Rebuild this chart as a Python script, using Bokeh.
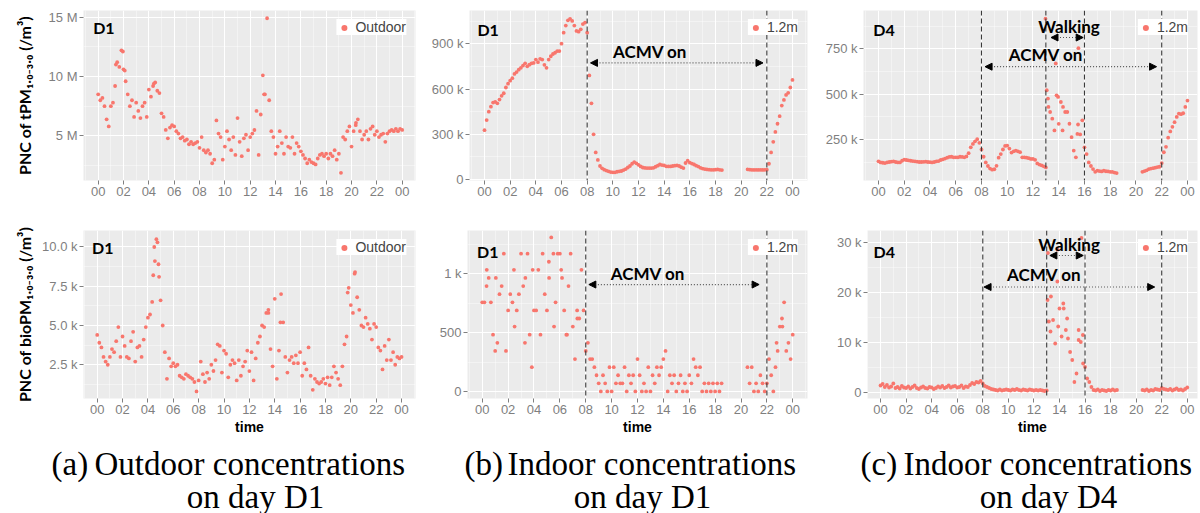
import numpy as np
from bokeh.plotting import figure
from bokeh.models import (Range1d, FixedTicker, Span, Label, Arrow, NormalHead,
                          Legend, LegendItem, ColumnDataSource)
from bokeh.layouts import column, row
from bokeh.embed import file_html
from bokeh.resources import INLINE
from bokeh.core.properties import value

# ---------------- data (10-minute samples from 00:00 to 24:00) ----------------
STEP_MIN = 10
hours = np.arange(145) * STEP_MIN / 60.0

# (a) outdoor D1, tPM (millions / m3)
a_top = [8.5, 8.0, 8.2, 7.5, 6.4, 5.8, 7.5, 7.8, 9.2, 11.2,
         10.8, 12.2, 10.6, 9.6, 8.5, 7.5, 8.0, 6.6, 7.8, 7.1,
         6.5, 7.5, 7.8, 6.6, 8.9, 8.3, 9.2, 9.5, 8.8, 8.6,
         6.9, 6.6, 5.5, 4.8, 5.7, 5.9, 5.8, 5.4, 5.2, 4.8,
         4.9, 4.6, 4.7, 4.3, 4.5, 4.3, 4.4, 4.5, 4.0, 4.9,
         3.8, 3.6, 3.8, 3.5, 2.7, 3.0, 6.3, 5.2, 4.9, 3.0,
         4.1, 5.4, 4.7, 3.8, 4.9, 3.4, 6.5, 4.5, 3.3, 4.8,
         5.1, 3.8, 4.9, 5.2, 5.5, 7.1, 3.4, 6.8, 10.1, 8.5,
         14.9, 8.0, 5.4, 4.9, 3.5, 4.1, 5.4, 4.4, 3.5, 4.9,
         4.1, 4.0, 4.9, 3.5, 4.4, 4.1, 3.7, 3.4, 3.1, 2.7,
         3.0, 2.8, 2.7, 2.6, 3.1, 3.4, 3.5, 3.3, 3.5, 3.1,
         3.5, 3.3, 3.8, 3.0, 3.5, 1.9, 4.9, 4.7, 5.4, 5.8,
         4.1, 5.4, 5.9, 6.4, 5.4, 4.7, 5.1, 5.4, 4.7, 5.6,
         5.8, 5.1, 5.4, 4.9, 5.1, 5.2, 4.5, 5.2, 5.4, 5.5,
         5.4, 5.6, 5.4, 5.6, 5.5]
a_top_extra_t = [1.4, 1.95, 2.1, 4.4, 13.1, 20.35]
a_top_extra_v = [11.0, 12.1, 10.5, 9.4, 8.5, 6.1]

# (a) outdoor D1, bioPM (thousands / m3)
a_bot = [4.4, 3.9, 3.6, 3.0, 2.7, 2.5, 3.0, 3.5, 3.3, 4.0,
         4.9, 3.0, 4.3, 3.7, 3.0, 2.9, 4.0, 4.6, 2.7, 3.6,
         3.7, 3.0, 4.1, 4.9, 5.5, 5.7, 6.5, 10.0, 10.5, 8.9,
         6.6, 5.0, 3.3, 1.6, 2.9, 2.4, 2.6, 2.4, 2.5, 1.8,
         1.7, 1.6, 1.9, 1.8, 1.7, 1.6, 1.4, 0.8, 1.5, 2.7,
         1.9, 1.4, 2.0, 1.6, 2.5, 2.1, 2.8, 3.8, 3.7, 2.0,
         3.4, 3.2, 1.7, 2.5, 2.8, 2.6, 1.5, 2.8, 1.8, 2.4,
         2.7, 3.4, 2.1, 3.3, 1.5, 2.9, 3.9, 4.3, 5.0, 4.9,
         5.8, 6.0, 3.5, 2.4, 6.7, 1.6, 3.4, 7.0, 5.2, 3.0,
         2.0, 2.8, 3.0, 2.6, 3.1, 2.6, 3.3, 1.8, 2.6, 2.2,
         3.6, 1.8, 0.9, 1.6, 1.4, 1.3, 1.4, 1.6, 1.3, 1.7,
         1.2, 1.7, 2.4, 2.0, 1.6, 1.2, 2.4, 3.8, 4.3, 7.4,
         6.3, 5.8, 8.4, 6.8, 6.0, 5.0, 4.9, 5.5, 5.1, 4.8,
         4.1, 5.1, 4.9, 3.6, 3.4, 2.2, 3.7, 2.8, 4.1, 2.8,
         3.3, 2.5, 3.0, 2.9, 3.0]
a_bot_extra_t = [4.42, 4.55, 4.75, 4.88, 13.5, 19.75, 20.3, 14.45]
a_bot_extra_v = [8.2, 9.1, 10.3, 8.1, 5.8, 7.1, 8.3, 5.2]

# (b) indoor D1 at 1.2 m, tPM (thousands / m3)
b_top = [327, 394, 450, 483, 510, 515, 505, 530, 555, 572,
         610, 635, 655, 672, 700, 712, 728, 740, 755, 770,
         750, 761, 770, 773, 795, 778, 800, 795, 760, 740,
         795, 817, 832, 840, 851, 851, 900, 973, 1020, 1055,
         1065, 1051, 1020, 985, 980, 995, 1030, 1040, 973, 690,
         505, 300, 180, 130, 90, 75, 66, 60, 55, 50,
         48, 48, 52, 55, 57, 63, 70, 80, 90, 105,
         116, 108, 98, 87, 80, 77, 76, 76, 76, 78,
         85, 92, 100, 96, 94, 88, 87, 87, 90, 92,
         94, 90, 82, 76, 110, 125, 112, 106, 100, 92,
         86, 78, 73, 70, 67, 66, 65, 65, 66, 67,
         65, 63, None, None, None, None, None, None, None, None,
         None, None, None, 68, 66, 65, 64, 65, 64, 65,
         64, 65, 66, 105, 180, 250, 316, 370, 420, 490,
         528, 561, 575, 610, 660]

# (b) indoor D1 at 1.2 m, bioPM (/m3)
b_bot = [759, 759, 897, 966, 759, 483, 345, 414, 828, 897,
         1173, 345, 690, 828, 759, 552, 690, 828, 1173, 897,
         966, 1173, 483, 207, 690, 690, 1035, 483, 1173, 828,
         690, 966, 1311, 1173, 759, 1173, 1173, 966, 690, 483,
         897, 1173, 552, 276, 690, 621, 1035, 690, 345, 414,
         276, 276, 207, 138, 69, 0, 138, 69, 0, 207,
         0, 207, 69, 138, 69, 69, 207, 0, 138, 69,
         138, 0, 276, 138, 0, 69, 0, 207, 0, 138,
         69, 207, 138, 207, 276, 345, 0, 138, 69, 138,
         0, 69, 138, 0, 69, 0, 138, 69, 276, 207,
         138, 207, 0, 69, 0, 69, 0, 69, 0, 69,
         0, 69, None, None, None, None, None, None, None, None,
         None, None, None, 207, 69, 207, 0, 69, 0, 138,
         69, 0, 69, 276, 138, 0, 207, 345, 552, 621,
         759, 345, 414, 276, 483]
b_bot_extra_t = [0.35, 1.05, 2.45, 3.3, 3.9, 5.15, 5.55, 6.1, 6.55, 7.35, 22.75, 23.2]
b_bot_extra_v = [1035, 966, 1035, 414, 1035, 1104, 552, 1035, 483, 621, 414, 552]

# (c) indoor D4 at 1.2 m, tPM (thousands / m3)
c_top = [130, 124, 122, 120, 124, 126, 128, 130, 126, 124,
         124, 133, 139, 137, 135, 133, 131, 130, 128, 126,
         126, 127, 128, 126, 125, 124, 126, 130, 131, 137,
         141, 145, 150, 154, 155, 152, 152, 152, 155, 154,
         152, 157, 175, 207, 226, 240, 252, 232, 195, 155,
         124, 104, 90, 84, 86, 105, 150, 170, 195, 215,
         217, 200, 178, 185, 189, 185, 180, 152, 152, 150,
         147, 143, 143, 138, 118, 112, 108, 102, 96, 476,
         402, 365, 300, 494, 337, 457, 430, 402, 402, 337,
         263, 189, 152, 333, 278, 356, 207, 170, 124, 104,
         87, 72, 78, 76, 74, 78, 75, 74, 72, 71,
         68, 65, None, None, None, None, None, None, None, None,
         None, None, None, 72, 76, 80, 87, 90, 92, 95,
         98, 100, 120, 180, 210, 260, 295, 320, 346, 375,
         393, 390, 395, 430, 465]
c_top_extra_t = [12.97, 13.07, 13.2, 13.77, 13.95, 14.3, 15.45, 15.53]
c_top_extra_v = [917, 522, 430, 670, 485, 300, 281, 754]

# (c) indoor D4 at 1.2 m, bioPM (thousands / m3)
c_bot = [1.3, 1.6, 1.0, 1.4, 0.9, 1.1, 1.7, 0.8, 1.0, 0.7,
         1.2, 0.9, 0.8, 1.1, 0.7, 1.0, 1.3, 0.8, 0.6, 0.9,
         1.1, 0.8, 0.7, 1.0, 0.9, 0.6, 0.8, 1.1, 0.9, 1.2,
         0.8, 1.0, 1.3, 0.9, 1.1, 1.2, 0.9, 1.0, 1.3, 0.8,
         1.1, 1.0, 1.4, 1.8, 1.6, 2.0, 1.9, 2.2, 1.7, 1.2,
         1.0, 0.8, 0.6, 0.5, 0.4, 0.3, 0.5, 0.3, 0.4, 0.5,
         0.4, 0.3, 0.5, 0.4, 0.6, 0.4, 0.3, 0.5, 0.4, 0.3,
         0.5, 0.4, 0.3, 0.4, 0.3, 0.4, 0.3, 0.2, 0.3, 14.1,
         19.1, 14.4, 9.7, 22.1, 16.7, 11.1, 16.7, 12.4, 10.7, 8.0,
         6.4, 2.0, 3.7, 10.4, 10.0, 11.4, 5.0, 2.7, 2.0, 1.0,
         0.4, 0.3, 0.5, 0.2, 0.4, 0.3, 0.2, 0.4, 0.3, 0.5,
         0.3, 0.4, None, None, None, None, None, None, None, None,
         None, None, None, 0.4, 0.3, 0.5, 0.2, 0.4, 0.3, 0.6,
         0.5, 0.4, 0.8, 0.6, 0.5, 0.4, 0.6, 0.3, 0.5, 0.7,
         0.4, 0.5, 0.3, 0.6, 0.9]
c_bot_extra_t = [13.07, 13.1, 13.3, 13.85, 13.9, 14.3, 14.6, 15.72, 15.85, 15.5]
c_bot_extra_v = [18.4, 27.8, 12.1, 28.5, 13.1, 17.7, 14.7, 30.8, 5.7, 12.4]

x_ticks = list(range(0, 25, 2))
x_tick_labels = ["00", "02", "04", "06", "08", "10", "12", "14", "16", "18", "20", "22", "00"]

captions_tag = ["(a)", "(b)", "(c)"]
captions_line1 = ["Outdoor concentrations", "Indoor concentrations", "Indoor concentrations"]
captions_line2 = ["on day D1", "on day D1", "on day D4"]

# ---------------- styling ----------------
RED = "#F8766D"
BG = "#EBEBEB"
TICK_GREY = "#7F7F7F"
SANS = "Liberation Sans"
CAL = "Lato"


def arr(v):
    return np.array(v, dtype=float)


def panel(w, h, bl, br, bt, bb, xr, yr, yticks, ylabels, yminor,
          series, extra_t, extra_v, legend_label, tag, tag_xy,
          ylabel=None, ylabel_standoff=10, show_time=False):
    p = figure(width=w, height=h, x_range=Range1d(*xr), y_range=Range1d(*yr),
               output_backend="svg", toolbar_location=None, tools="", title=None,
               min_border_left=bl, min_border_right=br, min_border_top=bt,
               min_border_bottom=bb, background_fill_color=BG,
               outline_line_color=None, border_fill_color="white")
    p.xaxis.ticker = FixedTicker(ticks=x_ticks, minor_ticks=[-1] + list(range(1, 24, 2)) + [25])
    p.xaxis.major_label_overrides = {t: l for t, l in zip(x_ticks, x_tick_labels)}
    p.yaxis.ticker = FixedTicker(ticks=yticks, minor_ticks=yminor)
    p.yaxis.major_label_overrides = {t: l for t, l in zip(yticks, ylabels)}
    for ax in (p.xaxis, p.yaxis):
        ax.axis_line_color = None
        ax.major_tick_out = 4
        ax.major_tick_in = 0
        ax.minor_tick_out = 0
        ax.minor_tick_in = 0
        ax.major_tick_line_color = TICK_GREY
        ax.major_label_text_color = TICK_GREY
        ax.major_label_text_font = SANS
        ax.major_label_text_font_size = "13px"
        ax.major_label_standoff = 2
    for g in (p.xgrid, p.ygrid):
        g.grid_line_color = "white"
        g.grid_line_width = 1.1
        g.minor_grid_line_color = "white"
        g.minor_grid_line_width = 0.6
        g.minor_grid_line_alpha = 0.7
    if show_time:
        p.xaxis.axis_label = "time"
        p.xaxis.axis_label_text_font = SANS
        p.xaxis.axis_label_text_font_style = "bold"
        p.xaxis.axis_label_text_font_size = "14px"
        p.xaxis.axis_label_text_color = "black"
        p.xaxis.axis_label_standoff = 2
    if ylabel:
        p.yaxis.axis_label = ylabel
        p.yaxis.axis_label_text_font = CAL
        p.yaxis.axis_label_text_font_style = "bold"
        p.yaxis.axis_label_text_font_size = "16px"
        p.yaxis.axis_label_text_color = "black"
        p.yaxis.axis_label_standoff = ylabel_standoff

    t_all = np.concatenate([hours, arr(extra_t)])
    v_all = np.concatenate([arr(series), arr(extra_v)])
    src = ColumnDataSource(data=dict(t=t_all, v=v_all))
    key_bg = p.rect(x=[], y=[], width=1, height=1, fill_color="#EFEFEF", line_color=None)
    sc = p.scatter(x="t", y="v", source=src, size=3.8, marker="circle",
                   fill_color=RED, line_color=None)
    legend = Legend(items=[LegendItem(label=legend_label, renderers=[key_bg, sc])],
                    location="top_right", margin=9, padding=4, spacing=0,
                    glyph_width=15, glyph_height=15, label_standoff=4,
                    label_text_font=SANS, label_text_font_size="14px",
                    border_line_color=None, background_fill_color="white",
                    background_fill_alpha=1.0)
    p.add_layout(legend)
    p.add_layout(Label(x=tag_xy[0], y=tag_xy[1], text=tag, text_font=CAL,
                       text_font_style="bold", text_font_size="16px",
                       text_baseline="middle", text_align="left", text_color="black"))
    return p


def vlines(p, locs):
    for x in locs:
        p.add_layout(Span(location=x, dimension="height", line_color="#3A3A3A",
                          line_dash="5 3", line_width=1.1))


def span_arrow(p, x0, x1, y, text, tx, ty):
    p.add_layout(Arrow(start=NormalHead(size=7, fill_color="black", line_color="black"),
                       end=NormalHead(size=7, fill_color="black", line_color="black"),
                       x_start=x0, x_end=x1, y_start=y, y_end=y,
                       line_color="#555555", line_dash="1 2", line_width=1.2))
    p.add_layout(Label(x=tx, y=ty, text=text, text_font=CAL, text_font_style="bold",
                       text_font_size="17px", text_align="center",
                       text_baseline="middle", text_color="black"))


# ---- top row ----
pa1 = panel(423, 210, 83, 8, 10, 30, (-1.16, 25.05), (1.25, 15.55),
            [5, 10, 15], ["5 M", "10 M", "15 M"], [2.5, 7.5, 12.5],
            a_top, a_top_extra_t, a_top_extra_v, "Outdoor", "D1", (-0.4, 14.15),
            ylabel="PNC of tPM\u2081.\u2080\u208b\u2083.\u2080 (/m\u00b3)", ylabel_standoff=12)

pb1 = panel(392, 210, 46, 8, 10, 30, (-1.17, 25.17), (-6, 1120),
            [0, 300, 600, 900], ["0", "300 k", "600 k", "900 k"], [150, 450, 750, 1050],
            b_top, [], [], "1.2m", "D1", (-0.55, 993))
vlines(pb1, [8, 22])
span_arrow(pb1, 8.26, 21.7, 773, "ACMV on", 12.9, 847)

pc1 = panel(385, 210, 48, 3, 10, 30, (-1.165, 24.78), (24, 962),
            [250, 500, 750], ["250 k", "500 k", "750 k"], [125, 375, 625, 875],
            c_top, c_top_extra_t, c_top_extra_v, "1.2m", "D4", (-0.4, 855))
vlines(pc1, [8, 13, 16, 22])
span_arrow(pc1, 8.28, 21.6, 652, "ACMV on", 13.0, 720)
span_arrow(pc1, 13.4, 15.9, 813, "Walking", 14.8, 874)

# ---- bottom row ----
pa2 = panel(423, 230, 83, 8, 20, 42, (-1.08, 25.1), (0.35, 11.05),
            [2.5, 5.0, 7.5, 10.0], ["2.5 k", "5.0 k", "7.5 k", "10.0 k"],
            [1.25, 3.75, 6.25, 8.75],
            a_bot, a_bot_extra_t, a_bot_extra_v, "Outdoor", "D1", (-0.4, 9.95),
            ylabel="PNC of bioPM\u2081.\u2080\u208b\u2083.\u2080 (/m\u00b3)", ylabel_standoff=5,
            show_time=True)

pb2 = panel(392, 230, 44, 8, 20, 42, (-1.14, 25.14), (-60, 1370),
            [0, 500, 1000], ["0", "500", "1 k"], [250, 750, 1250],
            b_bot, b_bot_extra_t, b_bot_extra_v, "1.2m", "D1", (-0.4, 1193),
            show_time=True)
vlines(pb2, [8, 22])
span_arrow(pb2, 8.24, 21.4, 910, "ACMV on", 12.8, 1008)

pc2 = panel(385, 230, 52, 3, 20, 42, (-1.02, 24.8), (-1.3, 32.3),
            [0, 10, 20, 30], ["0", "10 k", "20 k", "30 k"], [5, 15, 25],
            c_bot, c_bot_extra_t, c_bot_extra_v, "1.2m", "D4", (-0.55, 28.2),
            show_time=True)
vlines(pc2, [8, 13, 16, 22])
span_arrow(pc2, 8.1, 21.45, 21.0, "ACMV on", 12.8, 23.6)
span_arrow(pc2, 13.25, 15.86, 27.3, "Walking", 14.75, 29.6)

# ---- captions ----
cap = figure(width=1200, height=73, x_range=Range1d(0, 1200), y_range=Range1d(0, 73),
             output_backend="svg", toolbar_location=None, tools="", title=None,
             min_border=0, outline_line_color=None, background_fill_color="white")
cap.axis.visible = False
cap.grid.visible = False
cap_font = value("Liberation Serif")
cap.text(x=[51, 464, 860], y=[49.5, 49.5, 49.5], text=captions_tag,
         text_font=cap_font, text_font_size="33px",
         text_align="left", text_baseline="middle", text_color="black")
cap.text(x=[94, 507, 903], y=[49.5, 49.5, 49.5], text=captions_line1,
         text_font=cap_font, text_font_size="33px",
         text_align="left", text_baseline="middle", text_color="black")
cap.text(x=[255, 642, 1048], y=[17, 17, 17], text=captions_line2,
         text_font=cap_font, text_font_size="33px",
         text_align="center", text_baseline="middle", text_color="black")

layout = column(row(pa1, pb1, pc1), row(pa2, pb2, pc2), cap)

open("out.html", "w").write(file_html(layout, INLINE))
